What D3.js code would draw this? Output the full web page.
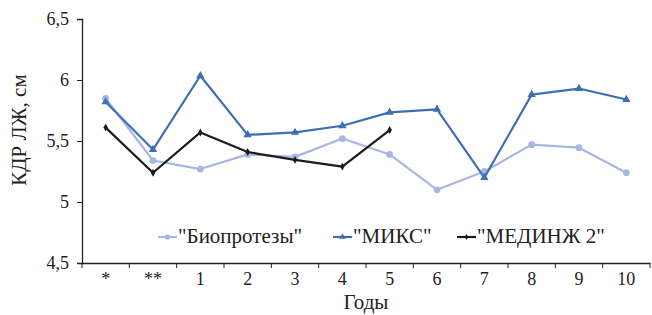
<!DOCTYPE html>
<html>
<head>
<meta charset="utf-8">
<script src="https://cdn.jsdelivr.net/npm/d3@7"></script>
</head>
<body style="margin:0">
<script>
var categories = ["*", "**", "1", "2", "3", "4", "5", "6", "7", "8", "9", "10"];
var bioValues = [5.85, 5.34, 5.27, 5.39, 5.37, 5.52, 5.39, 5.10, 5.25, 5.47, 5.445, 5.24];
var miksValues = [5.82, 5.43, 6.035, 5.55, 5.57, 5.625, 5.735, 5.76, 5.20, 5.88, 5.93, 5.84];
var medValues = [5.61, 5.24, 5.57, 5.41, 5.345, 5.29, 5.59];
var yTicks = [4.5, 5, 5.5, 6, 6.5];
var seriesNames = ['"Биопротезы"', '"МИКС"', '"МЕДИНЖ 2"'];

var width = 652, height = 315;
var margin = {top: 19, right: 2, bottom: 52, left: 82};

var svg = d3.select("body")
  .append("svg")
    .attr("width", width)
    .attr("height", height)
    .style("font-family", "'Liberation Serif'");

var x = d3.scaleBand()
  .domain(categories)
  .range([margin.left, width - margin.right]);

var y = d3.scaleLinear()
  .domain([4.5, 6.5])
  .range([height - margin.bottom, margin.top]);

var fmt = function(d) { return String(d).replace(".", ","); };

function label(sel, size) {
  sel.style("font-family", "'Liberation Serif'")
    .style("font-size", size + "px")
    .attr("fill", "#222");
}

// axes
var yAxis = svg.append("g")
  .attr("transform", "translate(" + margin.left + ",0)")
  .call(d3.axisLeft(y).tickValues(yTicks).tickFormat(fmt).tickSize(5).tickPadding(8));

var xAxis = svg.append("g")
  .attr("transform", "translate(0," + (height - margin.bottom) + ")")
  .call(d3.axisBottom(x).tickSize(0).tickPadding(9));

yAxis.attr("font-family", null).attr("font-size", null);
xAxis.attr("font-family", null).attr("font-size", null);
svg.selectAll(".tick text").call(label, 18);

// ticks between categories
xAxis.selectAll(".sep")
  .data(categories)
  .enter().append("line")
    .attr("class", "sep")
    .attr("x1", d => x(d) + x.bandwidth())
    .attr("x2", d => x(d) + x.bandwidth())
    .attr("y1", 0)
    .attr("y2", 5)
    .attr("stroke", "#222");
xAxis.append("line")
  .attr("x1", margin.left).attr("x2", margin.left)
  .attr("y1", 0).attr("y2", 5)
  .attr("stroke", "#222");

svg.selectAll(".domain").attr("stroke", "#222").attr("stroke-width", 1.3);
svg.selectAll(".tick line").attr("stroke", "#222");

// axis titles
svg.append("text")
  .attr("x", (margin.left + width - margin.right) / 2)
  .attr("y", 309)
  .attr("text-anchor", "middle")
  .call(label, 21)
  .text("Годы");

svg.append("text")
  .attr("transform", "translate(26," + 130 + ") rotate(-90)")
  .attr("text-anchor", "middle")
  .call(label, 21)
  .text("КДР ЛЖ, см");

var cx = d => x(d) + x.bandwidth() / 2;

var series = [
  {name: seriesNames[0], values: bioValues, color: "#a7b7e1", marker: d3.symbolCircle, size: 36},
  {name: seriesNames[1], values: miksValues, color: "#3d6fb6", marker: d3.symbolTriangle, size: 30},
  {name: seriesNames[2], values: medValues, color: "#1c1c1c", marker: d3.symbolDiamond, size: 18}
];

var line = d3.line()
  .x((d, i) => cx(categories[i]))
  .y(d => y(d));

series.forEach(function(s) {
  svg.append("path")
    .datum(s.values)
    .attr("fill", "none")
    .attr("stroke", s.color)
    .attr("stroke-width", 2.2)
    .attr("stroke-linejoin", "round")
    .attr("d", line);

  svg.selectAll(null)
    .data(s.values)
    .enter().append("path")
      .attr("d", d3.symbol().type(s.marker).size(s.size))
      .attr("transform", (d, i) => "translate(" + cx(categories[i]) + "," + y(d) + ")")
      .attr("fill", s.color);
});

// legend
var legendX = [158, 333, 457];
series.forEach(function(s, i) {
  var g = svg.append("g").attr("transform", "translate(" + legendX[i] + ",237)");
  g.append("line")
    .attr("x1", 0).attr("x2", 19)
    .attr("stroke", s.color)
    .attr("stroke-width", 2.2);
  g.append("path")
    .attr("d", d3.symbol().type(s.marker).size(s.size * 0.6))
    .attr("transform", "translate(9.5,0)")
    .attr("fill", s.color);
  g.append("text")
    .attr("x", 20)
    .attr("y", 6)
    .call(label, 21)
    .text(s.name);
});
</script>
</body>
</html>
